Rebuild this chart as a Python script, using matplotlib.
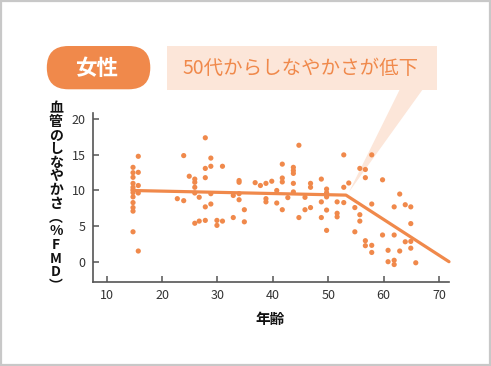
import matplotlib.pyplot as plt
from matplotlib.patches import FancyBboxPatch, Rectangle, Polygon

plt.rcParams['font.family'] = ['Noto Sans CJK JP', 'DejaVu Sans']

# age / FMD readings (one entry per dot)
age = [14.75] * 12 + [15.7] * 5 + [
    22.75, 23.9, 23.9, 24.9, 25.9, 25.9, 25.9, 25.9, 25.9, 26.7, 26.7,
    27.8, 27.8, 27.8, 27.8, 27.8, 28.8, 28.8, 28.8, 28.8, 29.9, 29.9,
    30.9, 30.9, 32.85, 32.85, 33.9, 33.9, 33.9, 33.9, 34.85, 34.85,
    36.8, 37.75, 38.75, 38.75, 38.75, 39.8, 40.7, 40.7,
    41.7, 41.7, 41.7, 41.7, 42.7, 43.7, 43.7, 43.7, 43.7, 43.7,
    44.7, 44.7, 45.8, 45.8, 46.8, 46.8, 46.8, 48.75, 48.75, 48.75,
    49.7, 49.7, 49.7, 49.7, 49.7, 51.6, 51.6, 51.6, 52.8, 52.8, 52.8,
    53.7, 54.8, 54.8, 55.7, 55.7, 55.7, 56.7, 56.7, 56.7, 56.7,
    57.85, 57.85, 57.85, 57.85, 59.8, 59.8, 60.8, 60.8,
    61.9, 61.9, 61.9, 61.9, 62.9, 62.9, 63.9, 63.9,
    64.9, 64.9, 64.9, 64.9, 65.8]
fmd = [13.25, 12.5, 11.85, 11.0, 10.45, 10.1, 9.7, 9.1, 8.3, 7.6, 7.1, 4.2,
       14.8, 12.55, 10.7, 9.65, 1.5,
       8.85, 8.57, 14.9, 12.0, 11.6, 11.15, 10.45, 9.65, 5.4, 9.05, 5.7,
       17.4, 13.1, 11.8, 7.7, 5.8, 14.55, 13.4, 9.55, 8.1, 5.8, 5.1,
       13.4, 5.7, 9.3, 6.2, 11.4, 11.15, 9.55, 8.7, 7.3, 5.6,
       11.1, 10.7, 11.0, 8.85, 8.4, 11.3, 10.0, 8.24,
       13.7, 11.75, 11.2, 7.3, 9.0, 13.25, 12.8, 12.4, 11.0, 9.8,
       16.35, 6.2, 9.04, 7.3, 11.0, 10.45, 7.6, 11.6, 8.4, 6.2,
       10.2, 9.7, 9.1, 7.25, 4.4, 8.4, 6.8, 6.3, 15.0, 10.45, 8.3,
       11.05, 7.6, 4.2, 13.1, 6.6, 5.7, 12.95, 11.8, 2.95, 2.25,
       15.0, 8.1, 2.3, 1.3, 11.5, 3.75, 1.6, 0.0,
       7.7, 3.75, 0.2, -0.4, 9.5, 1.5, 8.0, 2.8,
       7.7, 5.35, 2.85, 1.9, -0.15]

# piecewise regression line
fit_age = [14.6, 53.2, 71.8]
fit_fmd = [10.0, 9.35, 0.0]

x_ticks = [10, 20, 30, 40, 50, 60, 70]
y_ticks = [0, 5, 10, 15, 20]
ylabel_chars = list('血管のしなやかさ︵%FMD︶')

orange = '#F0894B'
pale = '#FCE6D9'

fig = plt.figure(figsize=(4.91, 3.66), dpi=100)

# background layer in pixel coordinates for the decorations
bg = fig.add_axes([0, 0, 1, 1], zorder=0)
bg.set_xlim(0, 491)
bg.set_ylim(366, 0)
bg.axis('off')
bg.add_patch(Rectangle((1, 1), 489, 364, fill=False, edgecolor='#c8c8c8', lw=1.6))
bg.add_patch(FancyBboxPatch((46.8, 46), 103.5, 43.3,
                            boxstyle='round,pad=0,rounding_size=21.6',
                            fc=orange, ec='none'))
bg.text(97, 68.5, '女性', color='white', fontsize=15.5, fontweight='bold',
        ha='center', va='center')
bg.add_patch(Rectangle((166.7, 46), 270, 43.7, fc=pale, ec='none'))
bg.add_patch(Polygon([(400, 89), (423, 89), (349, 192)], closed=True, fc=pale, ec='none'))
bg.text(301, 68.5, '50代からしなやかさが低下', color=orange, fontsize=14,
        ha='center', va='center')

for i, ch in enumerate(ylabel_chars):
    bg.text(56, 108 + i * 13.7, ch, fontsize=10, fontweight='bold',
            ha='center', va='center', color='#111111')
bg.text(270.5, 319, '年齢', fontsize=10.5, fontweight='bold', ha='center', va='center',
        color='#111111')

ax = fig.add_axes([92.7 / 491, 1 - 282 / 366, (449 - 92.7) / 491, (282 - 113) / 366], zorder=1)
ax.patch.set_visible(False)
ax.scatter(age, fmd, s=14, color=orange, edgecolors='none', zorder=3)
ax.plot(fit_age, fit_fmd, color=orange, lw=2.3, solid_capstyle='round', zorder=2, clip_on=False)

ax.set_xlim(7.47, 71.8)
ax.set_ylim(-2.85, 20.88)
ax.set_xticks(x_ticks)
ax.set_yticks(y_ticks)
for s in ['top', 'right']:
    ax.spines[s].set_visible(False)
for s in ['left', 'bottom']:
    ax.spines[s].set_color('#555555')
    ax.spines[s].set_linewidth(1.2)
ax.tick_params(direction='in', length=4.5, width=1.1, color='#555555',
               labelsize=9, labelcolor='#333333', pad=5)

fig.savefig('out.png', dpi=100)
